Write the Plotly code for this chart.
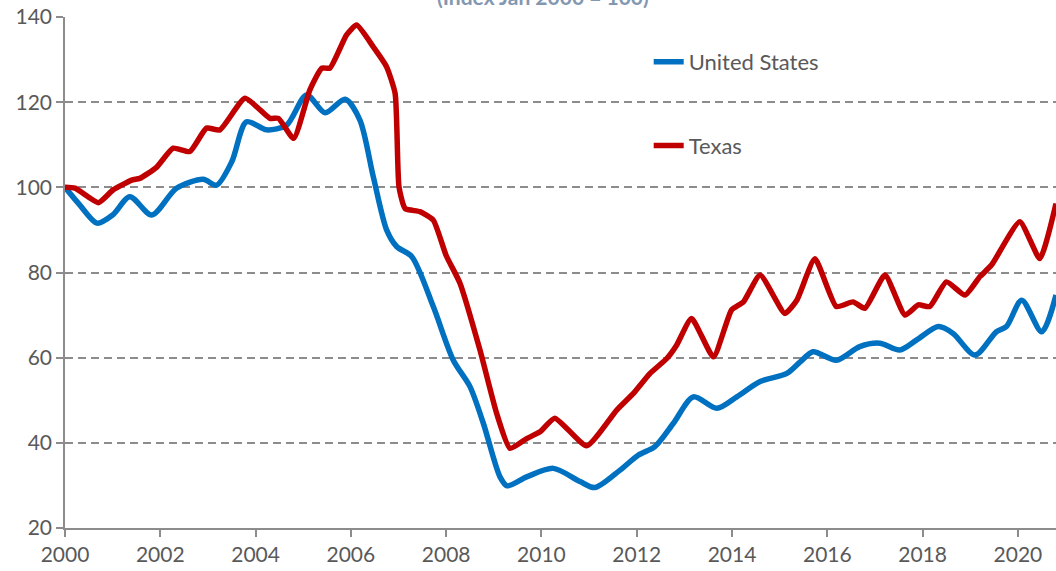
import plotly.graph_objects as go

# United States (index Jan 2000 = 100)
us_t = [2000.0, 2000.3, 2000.67, 2001.0, 2001.36, 2001.82, 2002.34, 2002.9, 2003.18, 2003.5, 2003.81,
        2004.23, 2004.65, 2005.07, 2005.46, 2005.88, 2006.19, 2006.47, 2006.75, 2006.96, 2007.28,
        2007.73, 2008.15, 2008.5, 2008.78, 2009.13, 2009.28, 2009.69, 2010.25, 2010.81, 2011.12,
        2011.65, 2012.03, 2012.38, 2012.77, 2013.19, 2013.68, 2014.1, 2014.59, 2015.15, 2015.43,
        2015.7, 2016.19, 2016.68, 2017.1, 2017.52, 2017.87, 2018.33, 2018.64, 2019.1, 2019.55,
        2019.76, 2020.08, 2020.5, 2020.8]
us_v = [100.0, 96.0, 91.6, 93.5, 97.8, 93.5, 99.8, 101.9, 100.5, 106.0, 115.4,
        113.5, 114.6, 121.7, 117.5, 120.7, 115.8, 102.5, 90.0, 86.1, 83.7,
        72.0, 59.4, 53.2, 44.6, 32.0, 29.9, 32.0, 34.0, 30.9, 29.5,
        33.6, 37.1, 39.1, 44.6, 50.8, 48.1, 50.8, 54.4, 56.3, 59.0,
        61.4, 59.4, 62.6, 63.4, 61.8, 64.1, 67.3, 65.7, 60.6, 66.1,
        67.3, 73.5, 66.1, 74.7]

# Texas (index Jan 2000 = 100)
tx_t = [2000.0, 2000.21, 2000.7, 2001.01, 2001.4, 2001.57, 2001.92, 2002.27, 2002.62, 2002.97,
        2003.25, 2003.78, 2004.3, 2004.48, 2004.8, 2005.14, 2005.39, 2005.56, 2005.91, 2006.12,
        2006.47, 2006.75, 2006.93, 2007.01, 2007.14, 2007.45, 2007.73, 2008.0, 2008.29, 2008.71,
        2009.06, 2009.34, 2009.69, 2009.97, 2010.28, 2010.95, 2011.58, 2011.93, 2012.28, 2012.63,
        2012.84, 2013.15, 2013.61, 2013.99, 2014.24, 2014.59, 2015.11, 2015.36, 2015.74, 2016.19,
        2016.54, 2016.79, 2017.21, 2017.63, 2017.91, 2018.15, 2018.5, 2018.89, 2019.2, 2019.45,
        2020.04, 2020.46, 2020.8]
tx_v = [100.0, 99.8, 96.4, 99.4, 101.7, 102.1, 104.7, 109.2, 108.4, 113.9,
        113.5, 120.9, 116.2, 116.2, 111.5, 122.9, 128.0, 128.0, 135.8, 138.1,
        133.0, 128.3, 122.0, 100.1, 95.0, 94.3, 92.3, 84.0, 77.5, 61.8,
        46.9, 38.7, 41.0, 42.6, 45.8, 39.3, 47.7, 51.6, 56.3, 59.8,
        63.0, 69.2, 60.2, 71.2, 73.1, 79.4, 70.4, 73.5, 83.2, 72.0,
        73.1, 71.6, 79.4, 70.0, 72.4, 72.0, 77.8, 74.7, 79.0, 81.8,
        91.9, 83.3, 96.2]

x_ticks = [2000, 2002, 2004, 2006, 2008, 2010, 2012, 2014, 2016, 2018, 2020]
y_ticks = [20, 40, 60, 80, 100, 120, 140]

FONT = "Lato"
GRAY = "#595959"

fig = go.Figure()
fig.add_trace(go.Scatter(x=us_t, y=us_v, name="United States", mode="lines",
                         line=dict(color="#0070C0", width=5.5, shape="spline", smoothing=0.8),
                         legendgroup="us"))
fig.add_trace(go.Scatter(x=tx_t, y=tx_v, name="Texas", mode="lines",
                         line=dict(color="#C00000", width=5.5, shape="spline", smoothing=0.5),
                         legendgroup="tx"))

fig.update_layout(
    width=1056, height=571,
    margin=dict(l=65, r=0, t=17, b=43, autoexpand=False),
    paper_bgcolor="white", plot_bgcolor="white",
    font=dict(family=FONT, size=21, color=GRAY),
    showlegend=True,
    legend=dict(x=0.589, y=0.953, xanchor="left", yanchor="top",
                bgcolor="rgba(0,0,0,0)", traceorder="grouped", tracegroupgap=52,
                font=dict(family=FONT, size=22, color=GRAY)),
    xaxis=dict(range=[2000, 2020.8], tickvals=x_ticks, showgrid=False, automargin=False,
               showline=True, linecolor="#8C8C8C", linewidth=1.5,
               ticks="outside", ticklen=7, tickcolor="#8C8C8C", tickwidth=1.5,
               zeroline=False, tickfont=dict(size=21, color=GRAY)),
    yaxis=dict(range=[20, 140], tickvals=y_ticks, showgrid=True, automargin=False,
               gridcolor="#8C8C8C", gridwidth=1.5, griddash="8px,5px",
               showline=True, linecolor="#8C8C8C", linewidth=1.5,
               ticks="outside", ticklen=7, tickcolor="#8C8C8C", tickwidth=1.5,
               zeroline=False, tickfont=dict(size=21, color=GRAY)),
    annotations=[dict(text="<b>(Index Jan 2000 = 100)</b>", xref="paper", yref="paper",
                      x=0.482, y=1, xanchor="center", yanchor="bottom", yshift=6,
                      showarrow=False, font=dict(family=FONT, size=21, color="#8497B0"))],
)

fig.write_html("out.html", config={"displayModeBar": False},
               post_script="document.body.style.margin='0';document.body.style.overflow='hidden';")
